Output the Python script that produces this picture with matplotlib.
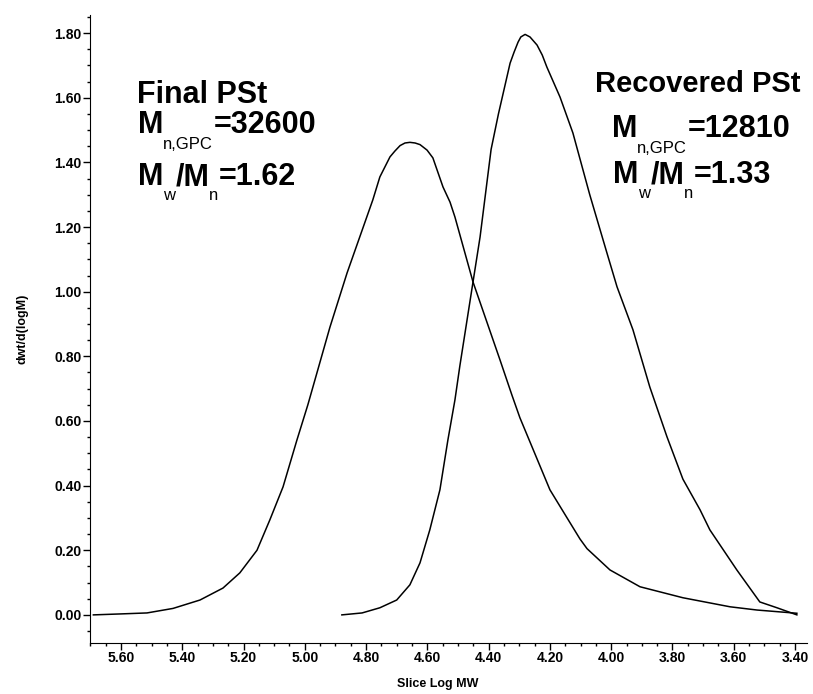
import numpy as np
import matplotlib
matplotlib.use("Agg")
import matplotlib.pyplot as plt
from matplotlib.ticker import MultipleLocator, FormatStrFormatter

plt.rcParams['font.family'] = ['Liberation Sans', 'DejaVu Sans']

# Final PSt trace (slice log MW, dwt/d(logM))
final_x = [5.69, 5.60, 5.515, 5.43, 5.342, 5.267, 5.212, 5.156, 5.114, 5.071,
           5.026, 4.99, 4.918, 4.862, 4.778, 4.755, 4.722, 4.706, 4.689, 4.673,
           4.657, 4.64, 4.624, 4.601, 4.582, 4.549, 4.526, 4.51, 4.451, 4.363,
           4.324, 4.298, 4.20, 4.144, 4.102, 4.079, 4.004, 3.906, 3.766, 3.612,
           3.524, 3.394]
final_y = [0.0, 0.003, 0.006, 0.02, 0.046, 0.083, 0.13, 0.20, 0.294, 0.396,
           0.54, 0.65, 0.89, 1.058, 1.284, 1.355, 1.417, 1.435, 1.452, 1.46,
           1.462, 1.46, 1.455, 1.438, 1.414, 1.324, 1.277, 1.231, 1.03, 0.789,
           0.68, 0.61, 0.387, 0.30, 0.235, 0.205, 0.139, 0.087, 0.053, 0.025,
           0.015, 0.005]

# Recovered PSt trace
rec_x = [4.879, 4.813, 4.755, 4.70, 4.657, 4.624, 4.592, 4.559, 4.533, 4.51,
         4.494, 4.451, 4.428, 4.392, 4.368, 4.33, 4.317, 4.304, 4.295, 4.281,
         4.265, 4.242, 4.225, 4.21, 4.167, 4.125, 4.07, 4.014, 3.981, 3.929,
         3.874, 3.818, 3.766, 3.71, 3.678, 3.59, 3.515, 3.459, 3.394]
rec_y = [0.0, 0.006, 0.022, 0.046, 0.093, 0.161, 0.263, 0.387, 0.541, 0.665,
         0.77, 1.03, 1.169, 1.44, 1.55, 1.707, 1.741, 1.772, 1.788, 1.796,
         1.788, 1.763, 1.732, 1.695, 1.602, 1.491, 1.30, 1.12, 1.015, 0.882,
         0.705, 0.551, 0.42, 0.325, 0.263, 0.139, 0.04, 0.022, 0.0]

W, H = 813, 694
fig = plt.figure(figsize=(W / 100, H / 100), dpi=100)
ax = fig.add_axes([90 / W, 1 - 643 / H, (807 - 90) / W, (643 - 15) / H])

ax.plot(final_x, final_y, color='black', lw=1.1)
ax.plot(rec_x, rec_y, color='black', lw=1.1)

ax.set_xlim(5.701, 3.361)
ax.set_ylim(-0.087, 1.856)

ax.spines['top'].set_visible(False)
ax.spines['right'].set_visible(False)

ax.xaxis.set_major_locator(MultipleLocator(0.2))
ax.xaxis.set_minor_locator(MultipleLocator(0.05))
ax.yaxis.set_major_locator(MultipleLocator(0.2))
ax.yaxis.set_minor_locator(MultipleLocator(0.05))
ax.xaxis.set_major_formatter(FormatStrFormatter('%.2f'))
ax.yaxis.set_major_formatter(FormatStrFormatter('%.2f'))

ax.tick_params(axis='both', which='major', direction='out', length=5,
               width=1, pad=1, labelsize=10)
ax.tick_params(axis='both', which='minor', direction='out', length=2.5, width=1)
for lab in ax.get_xticklabels() + ax.get_yticklabels():
    lab.set_fontweight('bold')

ax.set_xlabel('Slice Log MW', fontsize=9, fontweight='bold', labelpad=8)
ax.xaxis.set_label_coords(0.485, -0.055)
ax.set_ylabel('dwt/d(logM)', fontsize=9, fontweight='bold', labelpad=19)

renderer = fig.canvas.get_renderer()


def rich(x, y, runs):
    # runs: (text, size, weight, drop in px)
    for s, size, weight, dy in runs:
        t = fig.text(x / W, 1 - (y + dy) / H, s, fontsize=size,
                     fontweight=weight, ha='left', va='baseline')
        x += t.get_window_extent(renderer).width


rich(137, 103, [('Final PSt', 22, 'bold', 0)])
rich(138, 133, [('M', 22, 'bold', 0), ('n,GPC', 12, 'normal', 16),
                ('=32600', 22, 'bold', 0)])
rich(138, 185, [('M', 22, 'bold', 0), ('w', 12, 'normal', 15),
                ('/M', 22, 'bold', 0), ('n', 12, 'normal', 15),
                ('=1.62', 22, 'bold', 0)])

rich(595, 92, [('Recovered PSt', 21, 'bold', 0)])
rich(612, 137, [('M', 22, 'bold', 0), ('n,GPC', 12, 'normal', 16),
                ('=12810', 22, 'bold', 0)])
rich(613, 183, [('M', 22, 'bold', 0), ('w', 12, 'normal', 15),
                ('/M', 22, 'bold', 0), ('n', 12, 'normal', 15),
                ('=1.33', 22, 'bold', 0)])

fig.savefig('out.png', dpi=100)
